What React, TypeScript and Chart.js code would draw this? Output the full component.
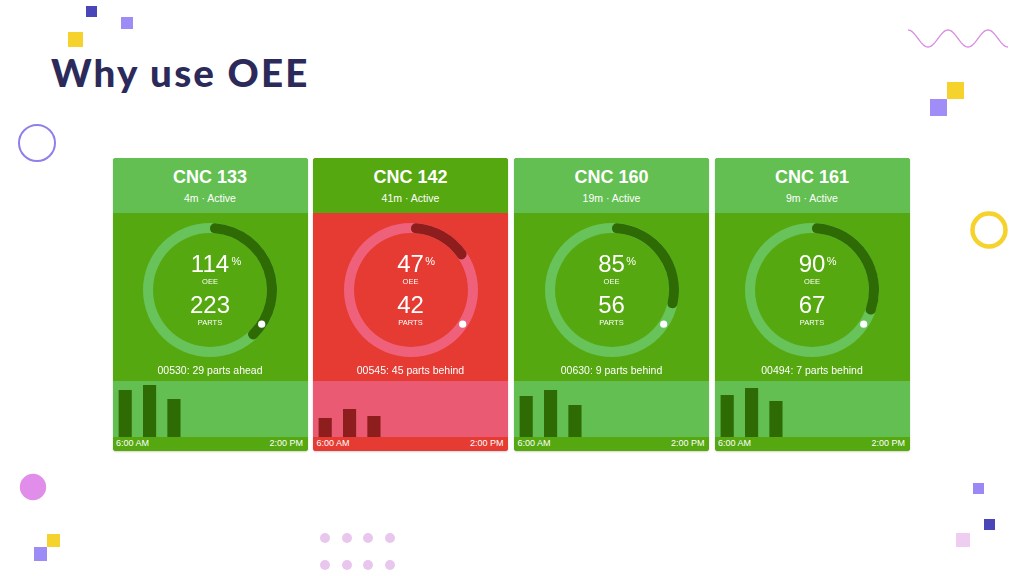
import React, { useEffect, useRef } from 'react';
import { Chart, registerables } from 'chart.js';

Chart.register(...registerables);

// ---------- data ----------
const machineNames = ['CNC 133', 'CNC 142', 'CNC 160', 'CNC 161'];
const runtimes = ['4m', '41m', '19m', '9m'];
const statuses = ['Active', 'Active', 'Active', 'Active'];
const oeeValues = [114, 47, 85, 90];
const partsValues = [223, 42, 56, 67];
const jobNumbers = ['00530', '00545', '00630', '00494'];
const partsDelta = [29, -45, -9, -7];
const arcFractions = [0.39, 0.165, 0.297, 0.314];
const shiftElapsed = 0.343;
const cardThemes = ['good', 'bad', 'good', 'good'];

const hourLabels = ['6:00 AM', '7:00 AM', '8:00 AM', '9:00 AM', '10:00 AM', '11:00 AM', '12:00 PM', '1:00 PM'];
const axisTickLabels = ['6:00 AM', '2:00 PM'];
const hourly133 = [47, 52, 38];
const hourly142 = [19, 28, 21];
const hourly160 = [41, 47, 32];
const hourly161 = [42, 49, 36];
const hourlySeries = [hourly133, hourly142, hourly160, hourly161];
const hourlyMax = 56;

// ---------- styles ----------
const FONT = '"Liberation Sans", Arial, Helvetica, sans-serif';
const THEMES: Record<string, any> = {
  good: { header: '#63bf51', body: '#55a80f', barsBg: '#63bf51', strip: '#55a80f', track: '#67c35a', dark: '#2e6b05' },
  bad: { header: '#55a80f', body: '#e53b33', barsBg: '#ea5b73', strip: '#e53b33', track: '#ef617a', dark: '#8e1d1d' },
};
const CARD_LEFTS = [112.5, 313, 514, 714.5];
const CARD_W = 195;
const CARD_TOP = 158;

function Donut({ arc, elapsed, theme }: { arc: number; elapsed: number; theme: any }) {
  const ref = useRef<HTMLCanvasElement | null>(null);
  useEffect(() => {
    const ringPlugin = {
      id: 'ringTrack',
      beforeDatasetsDraw(chart: any) {
        const el = chart.getDatasetMeta(0).data[0];
        if (!el) return;
        const { x, y, outerRadius, innerRadius } = el;
        const ctx = chart.ctx;
        ctx.save();
        ctx.beginPath();
        ctx.arc(x, y, outerRadius, 0, Math.PI * 2);
        ctx.arc(x, y, innerRadius, 0, Math.PI * 2, true);
        ctx.fillStyle = theme.track;
        ctx.fill();
        ctx.restore();
      },
      afterDatasetsDraw(chart: any) {
        const el = chart.getDatasetMeta(0).data[0];
        if (!el) return;
        const { x, y, outerRadius, innerRadius } = el;
        const r = (outerRadius + innerRadius) / 2;
        const a = -Math.PI / 2 + elapsed * Math.PI * 2;
        const ctx = chart.ctx;
        ctx.save();
        ctx.beginPath();
        ctx.arc(x + r * Math.cos(a), y + r * Math.sin(a), 3.6, 0, Math.PI * 2);
        ctx.fillStyle = '#ffffff';
        ctx.fill();
        ctx.restore();
      },
    };
    const chart = new Chart(ref.current as HTMLCanvasElement, {
      type: 'doughnut',
      data: {
        labels: ['Progress', 'Remaining'],
        datasets: [
          {
            data: [arc, 1 - arc],
            backgroundColor: [theme.dark, 'rgba(0,0,0,0)'],
            borderWidth: 0,
            borderRadius: (c: any) => (c.dataIndex === 0 ? 5 : 0),
            radius: 67,
            cutout: '85%',
          } as any,
        ],
      },
      options: {
        animation: false,
        responsive: false,
        events: [],
        layout: { padding: 0 },
        plugins: { legend: { display: false }, tooltip: { enabled: false } },
      },
      plugins: [ringPlugin],
    });
    return () => chart.destroy();
  }, []);
  return (
    <canvas
      ref={ref}
      width={140}
      height={140}
      style={{ position: 'absolute', left: CARD_W / 2 - 70, top: 62, width: 140, height: 140 }}
    />
  );
}

function Bars({ values, theme }: { values: number[]; theme: any }) {
  const ref = useRef<HTMLCanvasElement | null>(null);
  useEffect(() => {
    const chart = new Chart(ref.current as HTMLCanvasElement, {
      type: 'bar',
      data: {
        labels: hourLabels,
        datasets: [
          {
            data: values,
            backgroundColor: theme.dark,
            borderWidth: 0,
            categoryPercentage: 1,
            barPercentage: 0.54,
          },
        ],
      },
      options: {
        animation: false,
        responsive: false,
        events: [],
        layout: { padding: 0 },
        scales: {
          x: { display: false },
          y: { display: false, min: 0, max: hourlyMax },
        },
        plugins: { legend: { display: false }, tooltip: { enabled: false } },
      },
    });
    return () => chart.destroy();
  }, []);
  return (
    <canvas ref={ref} width={CARD_W} height={56} style={{ position: 'absolute', left: 0, top: 0, width: CARD_W, height: 56 }} />
  );
}

function textStyle(top: number, size: number, extra: any = {}): any {
  return {
    position: 'absolute',
    left: 0,
    width: CARD_W,
    top,
    fontSize: size,
    lineHeight: size + 'px',
    textAlign: 'center',
    color: '#ffffff',
    fontFamily: FONT,
    whiteSpace: 'nowrap',
    ...extra,
  };
}

function Card({ i }: { i: number }) {
  const theme = THEMES[cardThemes[i]];
  const d = partsDelta[i];
  const deltaText = `${jobNumbers[i]}: ${Math.abs(d)} parts ${d >= 0 ? 'ahead' : 'behind'}`;
  const oeeStr = String(oeeValues[i]);
  const numW = oeeStr.length * 24 * 0.556;
  return (
    <div
      style={{
        position: 'absolute',
        left: CARD_LEFTS[i],
        top: CARD_TOP,
        width: CARD_W,
        height: 293,
        borderRadius: 3,
        overflow: 'hidden',
        boxShadow: '0 1px 2px rgba(0,0,0,0.18)',
        background: theme.body,
      }}
    >
      <div style={{ position: 'absolute', left: 0, top: 0, width: CARD_W, height: 55, background: theme.header }} />
      <div style={{ position: 'absolute', left: 0, top: 223, width: CARD_W, height: 56, background: theme.barsBg }}>
        <Bars values={hourlySeries[i]} theme={theme} />
      </div>
      <div style={{ position: 'absolute', left: 0, top: 279, width: CARD_W, height: 14, background: theme.strip }} />
      <div style={textStyle(9.7, 18, { fontWeight: 700 })}>{machineNames[i]}</div>
      <div style={textStyle(34.9, 10.5)}>{`${runtimes[i]} · ${statuses[i]}`}</div>
      <Donut arc={arcFractions[i]} elapsed={shiftElapsed} theme={theme} />
      <div style={textStyle(93.8, 24)}>{oeeStr}</div>
      <div
        style={{
          position: 'absolute',
          left: CARD_W / 2 + numW / 2 + 1.5,
          top: 97.5,
          fontSize: 11,
          lineHeight: '11px',
          color: '#fff',
          fontFamily: FONT,
        }}
      >
        %
      </div>
      <div style={textStyle(119.8, 7.5)}>OEE</div>
      <div style={textStyle(134.8, 24)}>{String(partsValues[i])}</div>
      <div style={textStyle(161.3, 7.5)}>PARTS</div>
      <div style={textStyle(206.6, 10.5)}>{deltaText}</div>
      <div style={textStyle(280.9, 9, { textAlign: 'left', left: 3.5, width: 'auto' })}>{axisTickLabels[0]}</div>
      <div style={textStyle(280.9, 9, { textAlign: 'right', left: 'auto', right: 4.5, width: 'auto' })}>{axisTickLabels[1]}</div>
    </div>
  );
}

function Sq({ x, y, s, c }: { x: number; y: number; s: number; c: string }) {
  return <div style={{ position: 'absolute', left: x, top: y, width: s, height: s, background: c }} />;
}

function Wave() {
  const pts: string[] = [];
  for (let x = 908; x <= 1008; x += 1) {
    const y = 38.5 - 8.5 * Math.cos(((x - 908) / 40) * Math.PI * 2);
    pts.push(`${x},${y.toFixed(2)}`);
  }
  return (
    <svg style={{ position: 'absolute', left: 0, top: 0 }} width={1024} height={576}>
      <polyline points={pts.join(' ')} fill="none" stroke="#d98ee2" strokeWidth={1.3} />
      <circle cx={37} cy={143} r={18} fill="none" stroke="#8d80ea" strokeWidth={2} />
      <circle cx={989} cy={230} r={16.5} fill="none" stroke="#f5d22c" strokeWidth={4.5} />
      <circle cx={33} cy={487} r={13.2} fill="#e08ee9" />
      {[325, 347, 368, 390].map((cx) =>
        [538, 565].map((cy) => <circle key={cx + '-' + cy} cx={cx} cy={cy} r={5} fill="#e9c6ee" />)
      )}
    </svg>
  );
}

export default function App() {
  return (
    <div
      style={{
        position: 'absolute',
        left: 0,
        top: 0,
        width: 1024,
        height: 576,
        background: '#ffffff',
        overflow: 'hidden',
        fontFamily: FONT,
      }}
    >
      <Wave />
      <Sq x={86} y={6} s={11} c="#4b46b8" />
      <Sq x={121} y={17} s={11.5} c="#9d8cf6" />
      <Sq x={68} y={32} s={14.5} c="#f5d22c" />
      <Sq x={947} y={82} s={17} c="#f5d22c" />
      <Sq x={930} y={99} s={17} c="#a08df7" />
      <Sq x={47} y={534} s={13} c="#f5d22c" />
      <Sq x={33.5} y={547} s={13.5} c="#9d8cf6" />
      <Sq x={973} y={483} s={11} c="#9b88f5" />
      <Sq x={984} y={519} s={11} c="#4b46b8" />
      <Sq x={956} y={533} s={14} c="#efcdf2" />
      <div
        style={{
          position: 'absolute',
          left: 51,
          top: 53.2,
          fontFamily: 'Lato, "Open Sans", sans-serif',
          fontWeight: 900,
          fontSize: 38.5,
          lineHeight: '38.5px',
          color: '#2c2a5a',
          letterSpacing: 2.2,
          whiteSpace: 'nowrap',
        }}
      >
        Why use OEE
      </div>
      {machineNames.map((_, i) => (
        <Card key={i} i={i} />
      ))}
    </div>
  );
}
